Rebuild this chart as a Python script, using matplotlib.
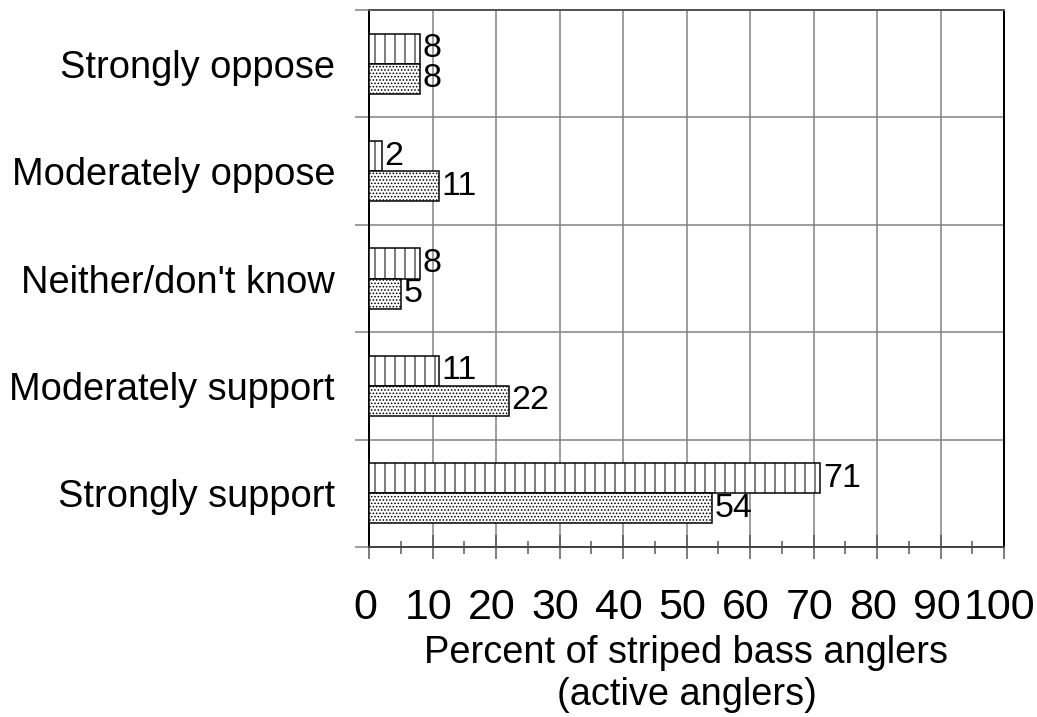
import numpy as np
import matplotlib
matplotlib.use("Agg")
from matplotlib import pyplot as plt
from matplotlib.ticker import MultipleLocator, FixedLocator
from matplotlib.transforms import ScaledTranslation

categories = ["Strongly oppose", "Moderately oppose", "Neither/don't know",
              "Moderately support", "Strongly support"]
striped_bass = [8, 2, 8, 11, 71]
active = [8, 11, 5, 22, 54]
x_ticks = list(range(0, 101, 10))

DPI = 60


def px(v):
    # size in pixels -> points at this dpi
    return v * 72 / DPI


plt.rcParams['font.family'] = ['Liberation Sans', 'DejaVu Sans']
plt.rcParams['hatch.linewidth'] = px(1.0)
plt.rcParams['hatch.color'] = 'black'

fig = plt.figure(figsize=(1037 / DPI, 717 / DPI), dpi=DPI)
ax = fig.add_axes([369 / 1037, 1 - 547 / 717, 635 / 1037, 537 / 717])

y = np.arange(len(categories))
h = 0.28
b1 = ax.barh(y - h / 2, striped_bass, height=h, color='white', edgecolor='black',
             hatch='|', linewidth=px(1.5), zorder=3)
b2 = ax.barh(y + h / 2, active, height=h, color='white', edgecolor='black',
             hatch='...', linewidth=px(1.5), zorder=3)
ax.bar_label(b1, padding=px(3), fontsize=px(34))
ax.bar_label(b2, padding=px(3), fontsize=px(34))

ax.set_xlim(0, 100)
ax.set_ylim(len(categories) - 0.5, -0.5)

ax.set_xticks(x_ticks)
ax.xaxis.set_minor_locator(MultipleLocator(5))
ax.tick_params(axis='x', which='major', direction='inout', length=px(24), width=px(1.5),
               color='#555555', labelsize=px(43), pad=px(29))
ax.tick_params(axis='x', which='minor', direction='inout', length=px(13), width=px(1.5),
               color='#555555')
# the reference's x labels sit a few pixels left of their ticks
shift = ScaledTranslation(-4 / DPI, 0, fig.dpi_scale_trans)
for lab in ax.get_xticklabels():
    lab.set_transform(lab.get_transform() + shift)

ax.set_yticks(y)
ax.set_yticklabels(categories)
ax.yaxis.set_minor_locator(FixedLocator(np.arange(-0.5, len(categories), 1)))
ax.tick_params(axis='y', which='major', length=0, labelsize=px(38), pad=px(34))
ax.tick_params(axis='y', which='minor', direction='out', length=px(14), width=px(1.5),
               color='#808080')

ax.grid(axis='x', which='major', color='#808080', linewidth=px(1.5), zorder=0)
ax.grid(axis='y', which='minor', color='#808080', linewidth=px(1.5), zorder=0)
ax.set_axisbelow(True)

ax.spines['left'].set_color('black')
ax.spines['left'].set_linewidth(px(2))
ax.spines['right'].set_color('black')
ax.spines['right'].set_linewidth(px(2))
ax.spines['top'].set_color('#555555')
ax.spines['top'].set_linewidth(px(2))
ax.spines['bottom'].set_color('#444444')
ax.spines['bottom'].set_linewidth(px(2))

ax.set_xlabel("Percent of striped bass anglers\n(active anglers)", fontsize=px(38),
              labelpad=px(7), linespacing=1.2)

fig.savefig("out.png", dpi=DPI)
